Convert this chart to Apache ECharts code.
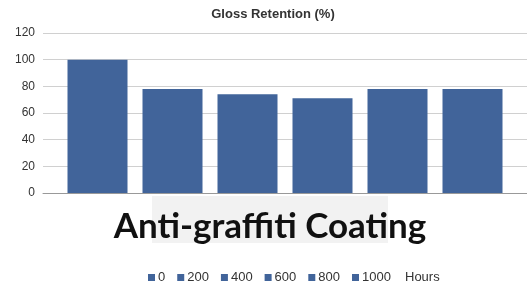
<!DOCTYPE html>
<html>
<head>
<meta charset="utf-8">
<script src="https://cdn.jsdelivr.net/npm/echarts@6/dist/echarts.min.js"></script>
<style>
  html, body { margin: 0; padding: 0; background: #fff; }
  #chart { width: 527px; height: 288px; }
</style>
</head>
<body>
<div id="chart"></div>
<script>
const categories = ['Anti-graffiti Coating']
const hours = ['0', '200', '400', '600', '800', '1000']
const gloss = [100, 78, 74, 71, 78, 78]
const yTicks = { min: 0, max: 120, interval: 20 }

const barColor = '#41649a'

const chart = echarts.init(document.getElementById('chart'))

const series = hours.map((h, i) => ({
  name: h,
  type: 'bar',
  data: [gloss[i]],
  barWidth: 60,
  barGap: '25%',
  itemStyle: { color: barColor },
  emphasis: { disabled: true }
}))

const option = {
  animation: false,
  title: {
    text: 'Gloss Retention (%)',
    left: 268,
    textAlign: 'center',
    top: 3,
    textStyle: { fontFamily: 'Liberation Sans', fontSize: 13, fontWeight: 'bold', color: '#333' }
  },
  legend: {
    data: hours,
    left: 143,
    top: 266,
    itemWidth: 7,
    itemHeight: 7,
    itemGap: 12,
    icon: 'rect',
    textStyle: { fontFamily: 'Liberation Sans', fontSize: 13, color: '#333', padding: [0, 0, 0, -2] }
  },
  graphic: [
    {
      type: 'rect',
      z: -10,
      shape: { x: 152, y: 196, width: 236, height: 47 },
      style: { fill: '#f2f2f2' }
    },
    {
      type: 'text',
      left: 405,
      top: 271,
      style: { text: 'Hours', font: '13px "Liberation Sans"', fill: '#333' }
    }
  ],
  grid: { left: 43, right: 0, top: 33, bottom: 95 },
  xAxis: {
    type: 'category',
    data: categories,
    axisTick: { show: false },
    axisLine: { lineStyle: { color: '#999' } },
    axisLabel: {
      margin: 16,
      padding: [0, 30, 0, 0],
      fontFamily: 'Lato',
      fontWeight: 'bold',
      fontSize: 35,
      color: '#111'
    }
  },
  yAxis: {
    type: 'value',
    min: yTicks.min,
    max: yTicks.max,
    interval: yTicks.interval,
    axisLine: { show: false },
    axisTick: { show: false },
    splitLine: { lineStyle: { color: '#d0d0d0' } },
    axisLabel: { fontFamily: 'Liberation Sans', fontSize: 12, color: '#333', margin: 8 }
  },
  series: series
}

chart.setOption(option)
</script>
</body>
</html>
